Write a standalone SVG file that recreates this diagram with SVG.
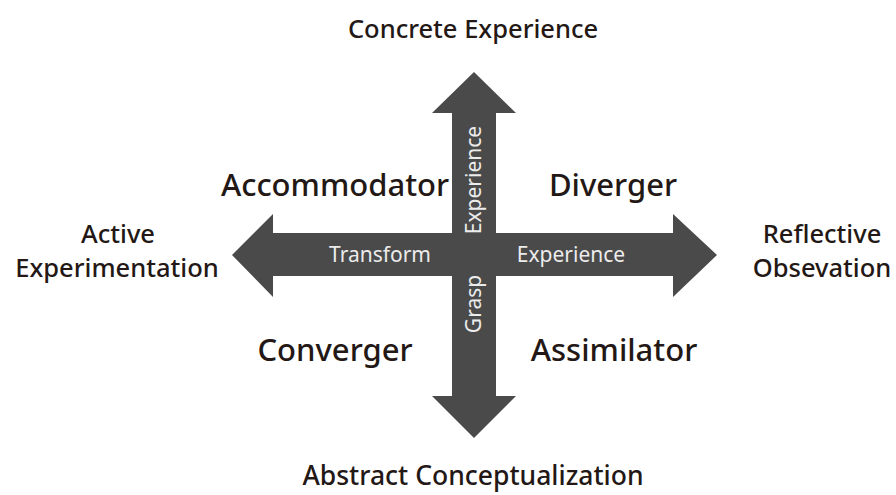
<svg xmlns="http://www.w3.org/2000/svg" width="896" height="495" viewBox="0 0 896 495">
<style>
.lbl{font-family:"Noto Sans","Open Sans",sans-serif;fill:#231815;text-anchor:middle}
.big{font-size:31px;font-weight:500}
.pole{font-size:25.5px;font-weight:500}
.in{font-family:"Noto Sans","Open Sans",sans-serif;fill:#ececec;font-size:21px;text-anchor:middle}
.arr{fill:#4a4a4a}
</style>
<rect width="896" height="495" fill="#fff"/>
<g id="connectors">
<polygon class="arr" points="474,72 516,113 496,113 496,233 673,233 673,214 717,255 673,297 673,276 496,276 496,396 516,396 474,438 432,396 452,396 452,276 273,276 273,297 232,255 273,214 273,233 452,233 452,113 432,113"/>
<text class="in" x="380" y="262">Transform</text>
<text class="in" x="571" y="262">Experience</text>
<text class="in" transform="translate(481,180) rotate(-90)">Experience</text>
<text class="in" transform="translate(481,304) rotate(-90)">Grasp</text>
</g>
<g id="concrete"><text class="lbl pole" x="473" y="38">Concrete Experience</text></g>
<g id="abstract"><text class="lbl pole" x="473" y="485" style="font-size:26.5px">Abstract Conceptualization</text></g>
<g id="active"><text class="lbl pole" x="118" y="243">Active</text><text class="lbl pole" x="117" y="277">Experimentation</text></g>
<g id="reflective"><text class="lbl pole" x="822" y="243">Reflective</text><text class="lbl pole" x="822" y="277">Obsevation</text></g>
<g id="accommodator"><text class="lbl big" x="335" y="196">Accommodator</text></g>
<g id="diverger"><text class="lbl big" x="613" y="196">Diverger</text></g>
<g id="converger"><text class="lbl big" x="335" y="361">Converger</text></g>
<g id="assimilator"><text class="lbl big" x="614" y="361">Assimilator</text></g>
</svg>
